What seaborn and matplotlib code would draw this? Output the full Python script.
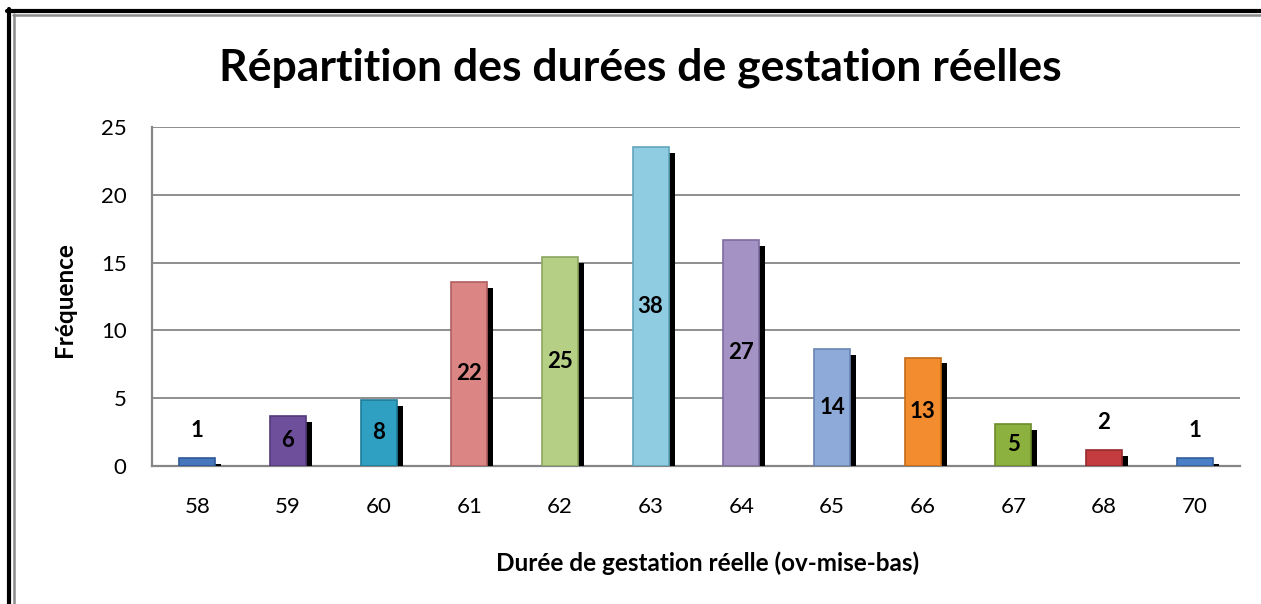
import matplotlib
matplotlib.use("Agg")
import matplotlib.pyplot as plt
import matplotlib.patheffects as pe
from matplotlib.lines import Line2D
import seaborn as sns
import pandas as pd

# data
durees = ["58", "59", "60", "61", "62", "63", "64", "65", "66", "67", "68", "70"]
frequences = [0.6, 3.7, 4.9, 13.6, 15.4, 23.5, 16.7, 8.6, 8.0, 3.1, 1.2, 0.6]
effectifs = [1, 6, 8, 22, 25, 38, 27, 14, 13, 5, 2, 1]
y_ticks = [0, 5, 10, 15, 20, 25]

bar_colors = ['#4677bd', '#6e4f9c', '#2f9fc2', '#db8585', '#b5cf84', '#8fcce2',
              '#a392c3', '#8eaad8', '#f28c2e', '#8db13f', '#c43c3f', '#4a7ec6']
edge_colors = ['#2f5a97', '#523a78', '#1f7c99', '#b05f5f', '#8ca660', '#62a5bd',
               '#7d6c9f', '#6885b2', '#c46a18', '#6b8b2a', '#962a2c', '#335f9d']

df = pd.DataFrame({'duree': durees, 'freq': frequences, 'n': effectifs})

sns.set_style("white")
plt.rcParams['font.family'] = ['Lato', 'DejaVu Sans']
plt.rcParams.update({
    'text.color': 'black',
    'axes.labelcolor': 'black',
    'xtick.color': 'black',
    'ytick.color': 'black',
})

W, H = 1261, 604
fig = plt.figure(figsize=(W / 100, H / 100), dpi=100)
ax = fig.add_axes([152 / W, 1 - 466 / H, (1240 - 152) / W, (466 - 127) / H])

sns.barplot(data=df, x='duree', y='freq', hue='duree', palette=bar_colors,
            saturation=1, legend=False, width=0.4, ax=ax, zorder=3)

shadow = [pe.SimplePatchShadow(offset=(4.3, -4.3), shadow_rgbFace='black', alpha=1.0),
          pe.Normal()]
for patch, ec in zip(ax.patches, edge_colors):
    patch.set_edgecolor(ec)
    patch.set_linewidth(1.2)
    patch.set_path_effects(shadow)

# count labels: inside the bar when there is room, above it otherwise
for i, (h, n) in enumerate(zip(frequences, effectifs)):
    y = h / 2 if h > 3 else h + 2.0
    ax.text(i, y, str(n), ha='center', va='center', fontsize=16,
            fontweight='bold', color='black', zorder=5)

ax.set_xlim(-0.5, len(durees) - 0.5)
ax.set_ylim(0, 25)
ax.set_yticks(y_ticks)
ax.set_yticklabels([str(t) for t in y_ticks], fontsize=16)
ax.tick_params(axis='y', length=7.2, width=1.3, color='#868686', labelcolor='black', pad=11)
ax.tick_params(axis='x', length=0, pad=22, labelsize=16, labelcolor='black')
ax.yaxis.grid(True, color='#868686', linewidth=1.3, zorder=0)
ax.set_axisbelow(True)
for side in ['top', 'right']:
    ax.spines[side].set_visible(False)
for side in ['left', 'bottom']:
    ax.spines[side].set_color('#868686')
    ax.spines[side].set_linewidth(1.6)

ax.set_xlabel('Durée de gestation réelle (ov-mise-bas)', fontsize=17.5, fontweight='bold')
ax.set_ylabel('Fréquence', fontsize=17.5, fontweight='bold')
ax.xaxis.set_label_coords((708 - 152) / 1088, (466 - 563) / 339)
ax.xaxis.label.set_va('center')
ax.yaxis.set_label_coords((65 - 152) / 1088, (466 - 300) / 339)
ax.yaxis.label.set_va('center')

fig.text(640 / W, 1 - 80 / H, 'Répartition des durées de gestation réelles',
         ha='center', va='baseline', fontsize=32, fontweight='bold', color='black')

# outer frame (black then grey), only top and left are visible
fig.add_artist(Line2D([9 / W, 9 / W], [0, 1 - 8.5 / H], color='black', lw=3, transform=fig.transFigure))
fig.add_artist(Line2D([7 / W, 1], [1 - 10.5 / H, 1 - 10.5 / H], color='black', lw=3, transform=fig.transFigure))
fig.add_artist(Line2D([14 / W, 14 / W], [0, 1 - 14 / H], color='#8c8c8c', lw=1.8, transform=fig.transFigure))
fig.add_artist(Line2D([13 / W, 1], [1 - 15 / H, 1 - 15 / H], color='#8c8c8c', lw=1.8, transform=fig.transFigure))

fig.savefig('out.png', dpi=100)
